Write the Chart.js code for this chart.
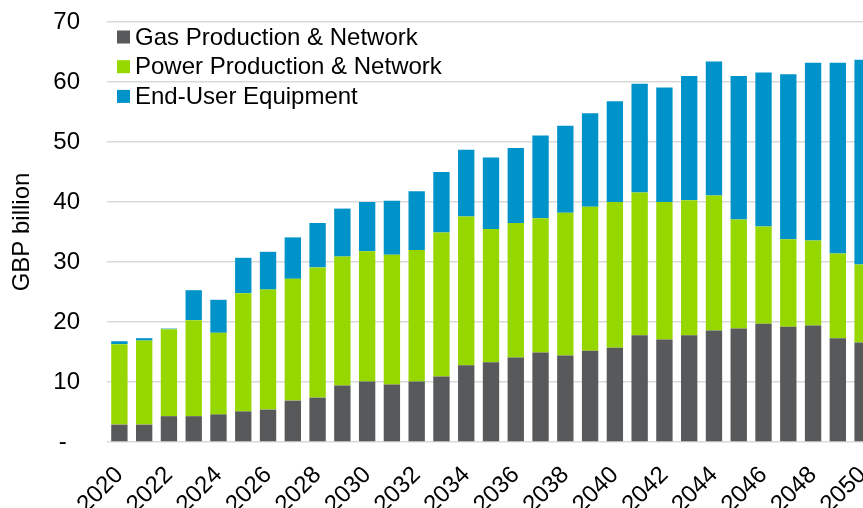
<!DOCTYPE html>
<html><head>
<title>GBP billion by year</title>
<script src="https://cdn.jsdelivr.net/npm/chart.js@4"></script>
<style>
html, body { margin: 0; padding: 0; background: #fff; overflow: hidden; }
.chart-container { width: 875px; height: 508px; position: relative; }
</style></head><body>
<div class="chart-container"><canvas id="chart0"></canvas></div>
<script>
const YEARS = ['2020', '2021', '2022', '2023', '2024', '2025', '2026', '2027', '2028', '2029',
  '2030', '2031', '2032', '2033', '2034', '2035', '2036', '2037', '2038', '2039',
  '2040', '2041', '2042', '2043', '2044', '2045', '2046', '2047', '2048', '2049', '2050'];

// GBP billion
const GAS = [2.9, 2.9, 4.3, 4.3, 4.6, 5.1, 5.4, 6.9, 7.4, 9.4,
  10.1, 9.6, 10.1, 10.9, 12.8, 13.3, 14.1, 14.9, 14.4, 15.2,
  15.7, 17.8, 17.1, 17.8, 18.6, 18.9, 19.7, 19.2, 19.4, 17.3, 16.6];
const POWER = [13.4, 14.0, 14.5, 16.0, 13.6, 19.7, 20.0, 20.3, 21.7, 21.5,
  21.7, 21.6, 21.9, 24.0, 24.8, 22.2, 22.4, 22.4, 23.8, 24.0,
  24.3, 23.8, 22.9, 22.5, 22.5, 18.2, 16.2, 14.6, 14.2, 14.1, 13.0];
const END_USER = [0.5, 0.4, 0.1, 5.0, 5.5, 5.9, 6.3, 6.9, 7.4, 8.0,
  8.2, 9.0, 9.8, 10.1, 11.1, 11.9, 12.5, 13.8, 14.5, 15.6,
  16.8, 18.1, 19.1, 20.7, 22.3, 23.9, 25.7, 27.5, 29.6, 31.8, 34.1];

const Y_TICKS = [0, 10, 20, 30, 40, 50, 60, 70];

const FONT = 'Arial, "Liberation Sans", sans-serif';
Chart.defaults.font.family = FONT;
Chart.defaults.color = '#000';

// Excel-style legend sitting inside the plot, top left
const plotLegend = {
  id: 'plotLegend',
  afterDraw(chart) {
    const ctx = chart.ctx;
    const left = chart.chartArea.left + 10;
    ctx.save();
    ctx.font = '24px ' + FONT;
    ctx.textBaseline = 'middle';
    ctx.textAlign = 'left';
    chart.data.datasets.forEach((ds, i) => {
      const cy = chart.chartArea.top + 15 + i * 29.7;
      ctx.fillStyle = ds.backgroundColor;
      ctx.fillRect(left, cy - 6.5, 13, 13);
      ctx.fillStyle = '#000';
      ctx.fillText(ds.label, left + 18, cy + 1);
    });
    ctx.restore();
  }
};

new Chart(document.getElementById('chart0'), {
  type: 'bar',
  data: {
    labels: YEARS,
    datasets: [
      { label: 'Gas Production & Network', data: GAS, backgroundColor: '#58595B' },
      { label: 'Power Production & Network', data: POWER, backgroundColor: '#97D700' },
      { label: 'End-User Equipment', data: END_USER, backgroundColor: '#0093C9' },
    ]
  },
  options: {
    responsive: true, maintainAspectRatio: false, animation: false,
    layout: { padding: { top: 22, right: 0, bottom: 0, left: 0 } },
    datasets: { bar: { categoryPercentage: 1, barPercentage: 0.66 } },
    plugins: {
      tooltip: { enabled: false },
      legend: { display: false }
    },
    scales: {
      x: {
        stacked: true,
        grid: { display: false, drawTicks: false },
        border: { display: false },
        afterFit: axis => { axis.height = 66; axis.paddingLeft = 0; axis.paddingRight = 0; },
        ticks: {
          autoSkip: false, maxRotation: 45, minRotation: 45, padding: 19,
          font: { size: 24 },
          callback: function (v, i) { return i % 2 === 0 ? YEARS[i] : ''; }
        }
      },
      y: {
        stacked: true, min: 0, max: 70,
        afterBuildTicks: axis => { axis.ticks = Y_TICKS.map(v => ({ value: v })); },
        afterFit: axis => { axis.width = 107; axis.paddingTop = 0; axis.paddingBottom = 0; },
        grid: { color: '#d9d9d9', lineWidth: 1.5, drawTicks: false },
        border: { display: false },
        title: { display: true, text: 'GBP billion', font: { size: 24 }, padding: { top: 8, bottom: 0 } },
        ticks: {
          padding: 27, font: { size: 24 },
          callback: v => v === 0 ? '-  ' : String(v)
        }
      }
    }
  },
  plugins: [plotLegend]
});
</script></body></html>
